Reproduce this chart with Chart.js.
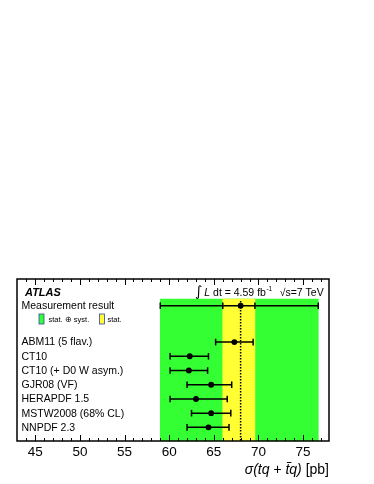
<!DOCTYPE html>
<html>
<head>
<meta charset="utf-8">
<script src="https://cdn.jsdelivr.net/npm/chart.js@4"></script>
<style>html,body{margin:0;padding:0;background:#fff}canvas{display:block}</style>
</head>
<body>
<canvas id="chart" width="374" height="484"></canvas>
<script>
// PDF predictions, sigma(tq + tbar q) in pb
const pdfNames = ['ABM11 (5 flav.)', 'CT10', 'CT10 (+ D0 W asym.)', 'GJR08 (VF)', 'HERAPDF 1.5', 'MSTW2008 (68% CL)', 'NNPDF 2.3'];
const pdfCentral = [67.3, 62.3, 62.2, 64.7, 63.0, 64.7, 64.4];
const pdfLow = [65.2, 60.1, 60.1, 62.0, 60.1, 62.5, 62.0];
const pdfHigh = [69.4, 64.4, 64.3, 67.0, 66.5, 66.9, 66.7];

// measurement
const measCentral = 68.0;
const measStat = [66.0, 69.6];
const measTotal = [59.0, 76.7];

const xTickLabels = [45, 50, 55, 60, 65, 70, 75];

// layout (y in row units, axis reversed)
const Y_MAX = 11.4;
const measRow = 1.88;
const firstPdfRow = 4.44;
const bandTop = 1.41;
const bandCenter = (bandTop + Y_MAX) / 2;
const FONT = '"Liberation Sans", Arial, Helvetica, sans-serif';

const datasets = [];
datasets.push({
    type: 'bar', indexAxis: 'y', grouped: false, order: 10,
    data: [{ y: bandCenter, x: measTotal }],
    backgroundColor: '#33ff33', borderWidth: 0, barThickness: 142
});
datasets.push({
    type: 'bar', indexAxis: 'y', grouped: false, order: 9,
    data: [{ y: bandCenter, x: measStat }],
    backgroundColor: '#ffff33', borderWidth: 0, barThickness: 142
});
datasets.push({
    order: 5, showLine: true,
    data: [{ x: measCentral, y: 1.55 }, { x: measCentral, y: Y_MAX }],
    borderColor: '#000', borderWidth: 1.5, borderDash: [1.5, 1.5], pointRadius: 0
});
// measurement error bar
datasets.push({
    order: 1, showLine: true,
    data: [measTotal[0], measStat[0], measCentral, measStat[1], measTotal[1]].map(v => ({ x: v, y: measRow })),
    borderColor: '#000', borderWidth: 1.5,
    pointStyle: ['line', 'line', 'circle', 'line', 'line'],
    rotation: [90, 90, 0, 90, 90],
    pointRadius: [3.3, 3.3, 2.2, 3.3, 3.3],
    pointBorderWidth: 1.5, pointBorderColor: '#000', pointBackgroundColor: '#000'
});
pdfNames.forEach((n, i) => {
    const r = firstPdfRow + i;
    datasets.push({
        order: 1, showLine: true,
        data: [pdfLow[i], pdfCentral[i], pdfHigh[i]].map(v => ({ x: v, y: r })),
        borderColor: '#000', borderWidth: 1.5,
        pointStyle: ['line', 'circle', 'line'],
        rotation: [90, 0, 90],
        pointRadius: [3.3, 2.2, 3.3],
        pointBorderWidth: 1.5, pointBorderColor: '#000', pointBackgroundColor: '#000'
    });
});

function put(ctx, s, x, y, font, align) {
    ctx.font = font;
    ctx.textAlign = align || 'left';
    ctx.textBaseline = 'middle';
    ctx.fillText(s, x, y);
    return ctx.measureText(s).width;
}

const decor = {
    id: 'decor',
    afterDatasetsDraw(chart) {
        const ctx = chart.ctx, a = chart.chartArea;
        const xs = chart.scales.x, ys = chart.scales.y;
        ctx.save();
        ctx.fillStyle = '#000';
        ctx.strokeStyle = '#000';
        // frame
        ctx.lineWidth = 1.5;
        ctx.strokeRect(a.left, a.top, a.right - a.left, a.bottom - a.top);
        // inward ticks top & bottom
        ctx.lineWidth = 1;
        ctx.beginPath();
        for (let v = Math.ceil(xs.min); v <= xs.max; v++) {
            const px = Math.round(xs.getPixelForValue(v)) + 0.5;
            if (px <= a.left + 1 || px >= a.right - 1) continue;
            const len = v % 5 === 0 ? 6 : 3;
            ctx.moveTo(px, a.bottom); ctx.lineTo(px, a.bottom - len);
            ctx.moveTo(px, a.top); ctx.lineTo(px, a.top + len);
        }
        ctx.stroke();
        // tick labels
        xTickLabels.forEach(v => put(ctx, String(v), xs.getPixelForValue(v), a.bottom + 11, '13.5px ' + FONT, 'center'));
        // axis title, right aligned
        const fI = 'italic 14px ' + FONT, fN = '14px ' + FONT;
        ctx.font = fI; const w1 = ctx.measureText('\u03c3(tq + tq)').width;
        ctx.font = fN; const w2 = ctx.measureText(' [pb]').width;
        let x0 = a.right - w1 - w2, ty = a.bottom + 29;
        let x = x0;
        x += put(ctx, '\u03c3(tq + ', x, ty, fI);
        const tx = x;
        x += put(ctx, 't', x, ty, fI);
        ctx.lineWidth = 1;
        ctx.beginPath(); ctx.moveTo(tx + 1.5, ty - 7.5); ctx.lineTo(tx + 6, ty - 7.5); ctx.stroke();
        x += put(ctx, 'q)', x, ty, fI);
        put(ctx, ' [pb]', x, ty, fN);
        // ATLAS & lumi
        put(ctx, 'ATLAS', 25, 292.5, 'bold italic 11px ' + FONT);
        x = 195;
        x += put(ctx, '\u222b', x, 292, '14px "DejaVu Sans", sans-serif');
        x += 2;
        x += put(ctx, 'L', x, 293, 'italic 10.5px ' + FONT);
        x += put(ctx, ' dt = 4.59 fb', x, 293, '10.5px ' + FONT);
        x += put(ctx, '-1', x + 0.5, 289, '6.5px ' + FONT) + 8;
        put(ctx, '\u221as=7 TeV', x, 293, '10.5px ' + FONT);
        // measurement label & legend
        const f = '10.5px ' + FONT;
        put(ctx, 'Measurement result', 21.5, ys.getPixelForValue(measRow), f);
        ctx.lineWidth = 0.8;
        ctx.strokeStyle = '#3344aa';
        ctx.fillStyle = '#33ff33';
        ctx.fillRect(39, 314, 5, 10); ctx.strokeRect(39, 314, 5, 10);
        ctx.fillStyle = '#ffff33';
        ctx.fillRect(99.5, 314, 5, 10); ctx.strokeRect(99.5, 314, 5, 10);
        ctx.fillStyle = '#000';
        put(ctx, 'stat. \u2295 syst.', 48.5, 319.5, '7.5px ' + FONT);
        put(ctx, 'stat.', 107.5, 319.5, '7.5px ' + FONT);
        pdfNames.forEach((n, i) => put(ctx, n, 21.5, ys.getPixelForValue(firstPdfRow + i) + 0.5, f));
        ctx.restore();
    }
};

new Chart(document.getElementById('chart'), {
    type: 'scatter',
    data: { datasets: datasets },
    options: {
        responsive: false,
        animation: false,
        layout: { padding: { left: 17, right: 45, top: 279, bottom: 43 } },
        plugins: { legend: { display: false }, tooltip: { enabled: false } },
        scales: {
            x: { type: 'linear', min: 42.95, max: 77.9, display: false, offset: false },
            y: { type: 'linear', min: 0, max: Y_MAX, reverse: true, display: false, offset: false }
        }
    },
    plugins: [decor]
});
</script>
</body>
</html>
